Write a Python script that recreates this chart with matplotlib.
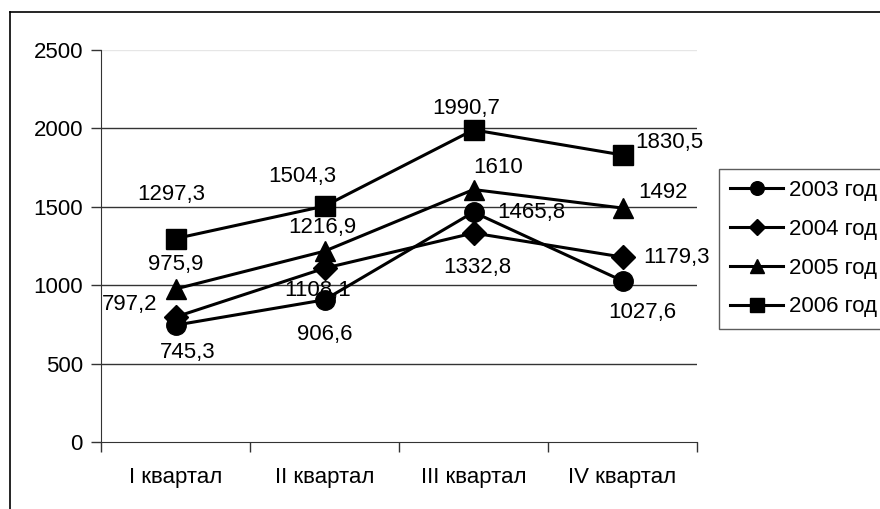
import matplotlib
matplotlib.use("Agg")
import matplotlib.pyplot as plt
from matplotlib.lines import Line2D

plt.rcParams['font.family'] = ['Liberation Sans', 'DejaVu Sans']

# Data
quarters = ["I квартал", "II квартал", "III квартал", "IV квартал"]
years = ["2003 год", "2004 год", "2005 год", "2006 год"]
values_2003 = [745.3, 906.6, 1465.8, 1027.6]
values_2004 = [797.2, 1108.1, 1332.8, 1179.3]
values_2005 = [975.9, 1216.9, 1610, 1492]
values_2006 = [1297.3, 1504.3, 1990.7, 1830.5]
markers = ["o", "D", "^", "s"]
marker_sizes = [14, 12, 15, 14]

# label offsets in pixels (dx, dy), hand placed like the original
label_offsets = [
    [(12, -27), (0, -35), (58, 0), (20, -32)],
    [(-46, 12), (-7, -22), (4, -34), (54, 0)],
    [(0, 24), (-2, 24), (25, 22), (40, 16)],
    [(-4, 44), (-22, 30), (-7, 21), (47, 12)],
]

series = [values_2003, values_2004, values_2005, values_2006]

fig = plt.figure(figsize=(8.8, 5.09), dpi=100)
ax = fig.add_axes([101 / 880, 67 / 509, 596 / 880, 392 / 509])

# outer chart frame (left and top edges visible)
fig.add_artist(Line2D([10 / 880, 10 / 880], [0, 1 - 12 / 509], color="black", lw=1.2,
                      transform=fig.transFigure))
fig.add_artist(Line2D([10 / 880, 1], [1 - 12 / 509, 1 - 12 / 509], color="black", lw=1.2,
                      transform=fig.transFigure))

x = [i + 0.5 for i in range(len(quarters))]

for vals, name, mk, ms, offs in zip(series, years, markers, marker_sizes, label_offsets):
    ax.plot(x, vals, color="black", lw=2.2, marker=mk, markersize=ms,
            markerfacecolor="black", markeredgecolor="black", label=name, zorder=3)
    for xi, v, (dx, dy) in zip(x, vals, offs):
        ax.annotate(f"{v:g}".replace(".", ","), (xi, v), xytext=(dx, dy),
                    textcoords="offset pixels", ha="center", va="center",
                    fontsize=16, zorder=4)

ax.set_xlim(0, 4)
ax.set_ylim(0, 2500)
ax.set_yticks([0, 500, 1000, 1500, 2000, 2500])
for yv in [500, 1000, 1500, 2000]:
    ax.axhline(yv, color="#333333", lw=1.0, zorder=1)
ax.axhline(2500, color="#e6e6e6", lw=1.0, zorder=1)

ax.set_xticks([0, 1, 2, 3, 4])
ax.set_xticklabels([])
ax.set_xticks(x, minor=True)
ax.set_xticklabels(quarters, minor=True)
ax.tick_params(axis="x", which="major", direction="out", length=7, width=1, color="#333333")
ax.tick_params(axis="x", which="minor", length=0, pad=18, labelsize=16)
ax.tick_params(axis="y", direction="out", length=7, width=1, color="#333333", pad=6,
               labelsize=16)

for s in ["top", "right"]:
    ax.spines[s].set_visible(False)
ax.spines["left"].set_color("#333333")
ax.spines["bottom"].set_color("#333333")

leg = ax.legend(loc="upper left", bbox_to_anchor=(719 / 880, 1 - 169 / 509),
                bbox_transform=fig.transFigure, fontsize=16, frameon=True,
                fancybox=False, edgecolor="#333333", handlelength=2.4,
                handletextpad=0.25, labelspacing=0.8, borderpad=0.5,
                markerscale=0.7, borderaxespad=0)
leg.get_frame().set_linewidth(1.0)

fig.savefig("out.png", dpi=100)
